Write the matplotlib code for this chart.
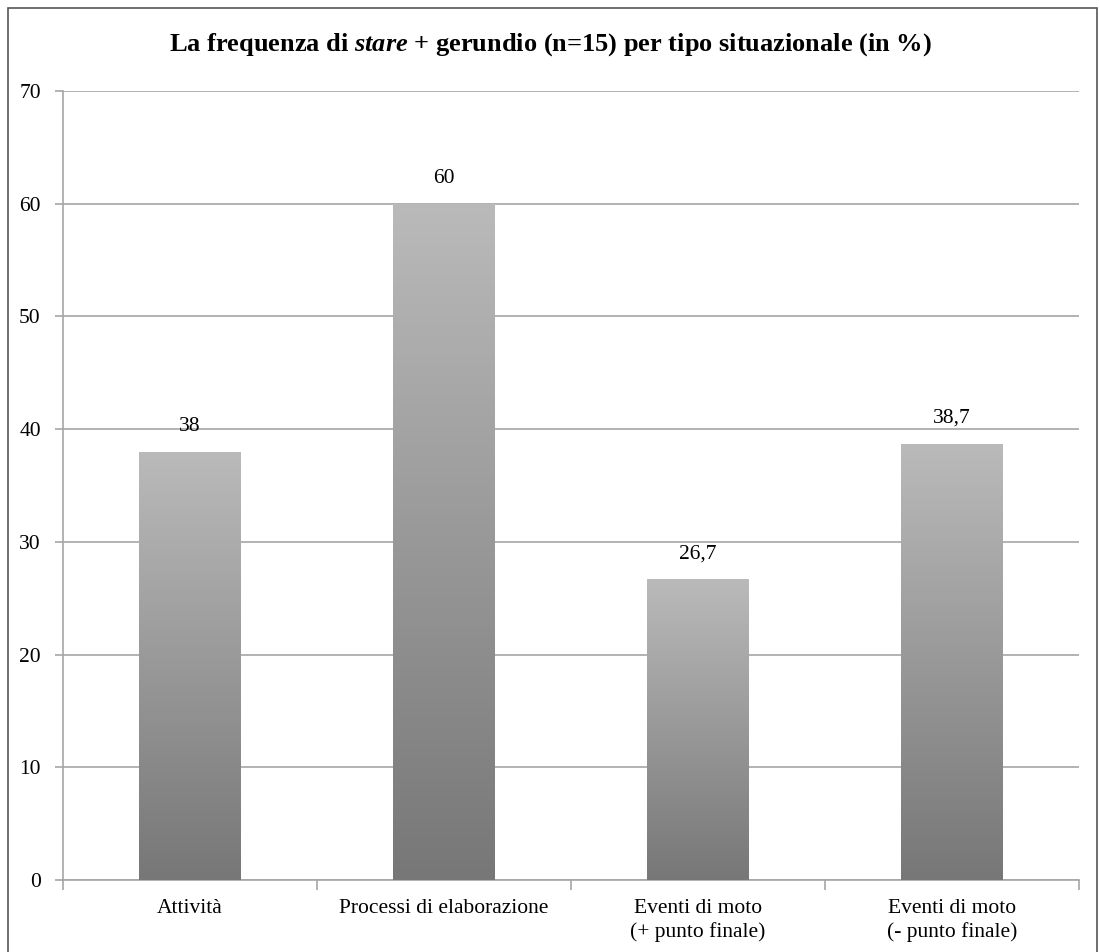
import matplotlib.pyplot as plt
import numpy as np
from matplotlib.colors import LinearSegmentedColormap
from matplotlib.patches import Rectangle

categories = ['Attività', 'Processi di elaborazione', 'Eventi di moto\n(+ punto finale)', 'Eventi di moto\n(- punto finale)']
values = [38, 60, 26.7, 38.7]
value_labels = ['38', '60', '26,7', '38,7']

plt.rcParams['font.family'] = ['Liberation Serif', 'DejaVu Serif']
plt.rcParams['mathtext.fontset'] = 'custom'
plt.rcParams['mathtext.it'] = 'Liberation Serif:italic:bold'
plt.rcParams['mathtext.rm'] = 'Liberation Serif:bold'

fig = plt.figure(figsize=(11, 9.52), dpi=100)
ax = fig.add_axes([63/1100, 1 - 880/952, (1079-63)/1100, (880-91)/952])

# outer frame like the exported chart box
fig.patches.append(Rectangle((8/1100, -0.02), (1097-8)/1100, 1 - 8/952 + 0.02,
                             transform=fig.transFigure, fill=False,
                             edgecolor='#555555', linewidth=1.2))

grey = LinearSegmentedColormap.from_list('g', ['#777777', '#bababa'])
grad = np.linspace(0, 1, 256).reshape(-1, 1)

x = np.arange(len(categories))
width = 0.4
bars = ax.bar(x, values, width=width, color='none', zorder=3)
for b, lab in zip(bars, value_labels):
    x0, h = b.get_x(), b.get_height()
    im = ax.imshow(grad, cmap=grey, origin='lower', aspect='auto',
                   extent=[x0, x0 + width, 0, h], zorder=3)
    im.set_clip_path(b)
    ax.text(x0 + width / 2, h + 1.4, lab, ha='center', va='bottom', fontsize=15.5)

ax.set_xlim(-0.5, len(categories) - 0.5)
ax.set_ylim(0, 70)
ax.set_yticks(range(0, 71, 10))
ax.yaxis.grid(True, color='#a6a6a6', linewidth=1.2, zorder=0)
ax.set_axisbelow(True)

ax.set_xticks(x)
ax.set_xticklabels(categories, fontsize=15.5, linespacing=1.25)
ax.set_xticks(np.arange(-0.5, len(categories)), minor=True)
ax.tick_params(axis='x', which='major', length=0, pad=14)
ax.tick_params(axis='x', which='minor', length=7, color='#a6a6a6', width=1.2)
ax.tick_params(axis='y', length=6, color='#a6a6a6', width=1.2, labelsize=15.5, pad=10)

for s in ['top', 'right']:
    ax.spines[s].set_visible(False)
for s in ['left', 'bottom']:
    ax.spines[s].set_color('#a6a6a6')
    ax.spines[s].set_linewidth(1.2)

fig.text(0.5, 1 - 45/952, 'La frequenza di $stare$ + gerundio (n=15) per tipo situazionale (in %)',
         ha='center', va='center', fontsize=19, fontweight='bold')

fig.savefig('out.png', dpi=100)
